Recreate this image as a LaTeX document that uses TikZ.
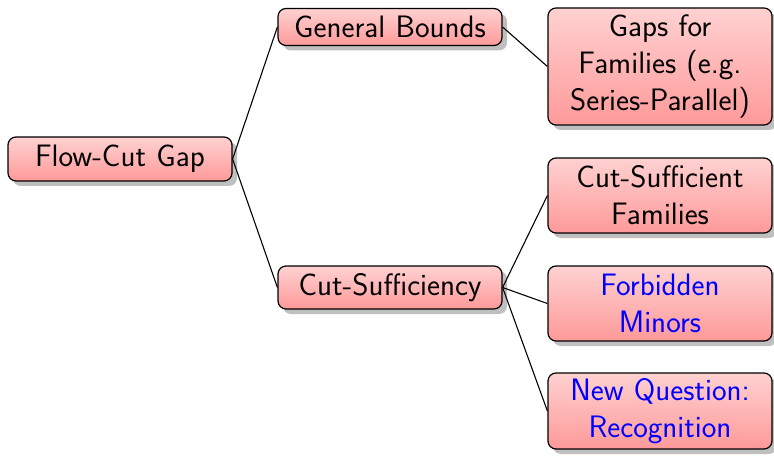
\documentclass[tikz,border=0pt]{standalone}
\usetikzlibrary{shadows}
\tikzset{
  box/.style={draw=black, line width=1.2pt, rounded corners=8pt,
    top color=red!18, bottom color=red!40,
    minimum width=224pt, text width=216pt, align=center, inner sep=0pt,
    font=\sffamily\fontsize{31}{37}\selectfont,
    drop shadow={shadow xshift=5pt, shadow yshift=-5pt, fill=black, opacity=0.25}},
  link/.style={draw=black, line width=1.1pt}
}
\begin{document}
\begin{tikzpicture}[x=1pt,y=1pt]
\useasboundingbox (0,0) rectangle (774,456);
\node[box, minimum height=44pt] (root) at (120,297) {Flow-Cut Gap};
\node[box, minimum height=37pt] (gb) at (390,429) {General Bounds};
\node[box, minimum height=43pt] (cs) at (390,168.5) {Cut-Sufficiency};
\node[box, minimum height=117pt] (gf) at (660,389.5) {Gaps for\\Families (e.g.\\Series-Parallel)};
\node[box, minimum height=75pt] (csf) at (660,260.5) {Cut-Sufficient\\Families};
\node[box, minimum height=75pt, text=blue] (fm) at (660,152.5) {Forbidden\\Minors};
\node[box, minimum height=76pt, text=blue] (nq) at (660,45) {New Question:\\Recognition};
\draw[link] (root.east) -- (gb.west);
\draw[link] (root.east) -- (cs.west);
\draw[link] (gb.east) -- (gf.west);
\draw[link] (cs.east) -- (csf.west);
\draw[link] (cs.east) -- (fm.west);
\draw[link] (cs.east) -- (nq.west);
\end{tikzpicture}
\end{document}
